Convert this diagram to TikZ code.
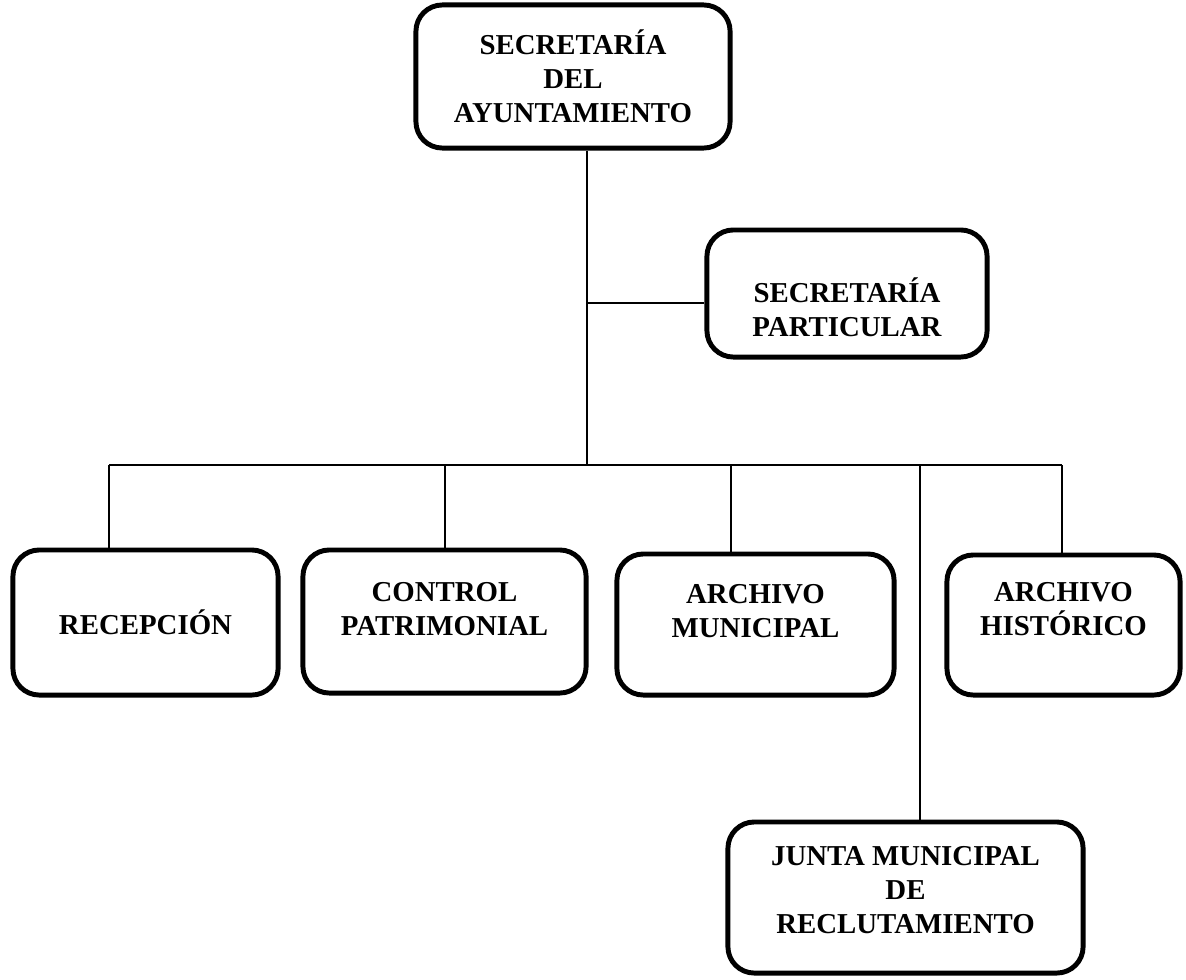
\documentclass[tikz,border=0pt]{standalone}
\usepackage{fontspec}
\setmainfont{Liberation Serif}
\begin{document}
\begin{tikzpicture}[x=0.01cm,y=-0.01cm,
  box/.style={draw, line width=1.4pt, rounded corners=7.5pt, align=center, inner sep=2pt,
              font=\fontsize{8.2}{9.7}\selectfont\bfseries},
  link/.style={line width=0.5pt}]
\useasboundingbox (0,0) rectangle (1186,979);
\node[box, minimum width=3.14cm, minimum height=1.43cm] (sa) at (573,76.5) {SECRETARÍA\\DEL\\AYUNTAMIENTO};
\node[box, minimum width=2.80cm, minimum height=1.27cm] (sp) at (847,293.5) {\rule{0pt}{0.52cm}SECRETARÍA\\PARTICULAR};
\node[box, minimum width=2.65cm, minimum height=1.45cm] (rec) at (145.5,622.5) {RECEPCIÓN};
\node[box, minimum width=2.83cm, minimum height=1.43cm] (cp) at (444.5,621.5) {CONTROL\\PATRIMONIAL\rule[-0.25cm]{0pt}{0pt}};
\node[box, minimum width=2.77cm, minimum height=1.41cm] (am) at (755.5,624.5) {ARCHIVO\\MUNICIPAL\rule[-0.27cm]{0pt}{0pt}};
\node[box, minimum width=2.33cm, minimum height=1.40cm] (ah) at (1063.5,625) {ARCHIVO\\HISTÓRICO\rule[-0.32cm]{0pt}{0pt}};
\node[box, minimum width=3.55cm, minimum height=1.51cm] (jm) at (905.5,897.5) {JUNTA MUNICIPAL\\DE\\RECLUTAMIENTO\rule[-0.15cm]{0pt}{0pt}};

% trunk and bus
\coordinate (bus) at (587,465);
\coordinate (sj) at (587,303);
\coordinate (d1) at (109,465);
\coordinate (d2) at (445,465);
\coordinate (d3) at (731,465);
\coordinate (d4) at (920,465);
\coordinate (d5) at (1062,465);
\draw[link] (sa.south -| bus) -- (bus);
\draw[link] (sj) -- (sj -| sp.west);
\draw[link] (d1) -- (d5);
\foreach \p/\n in {d1/rec, d2/cp, d3/am, d4/jm, d5/ah}
  \draw[link] (\p) -- (\p |- \n.north);
\end{tikzpicture}
\end{document}
